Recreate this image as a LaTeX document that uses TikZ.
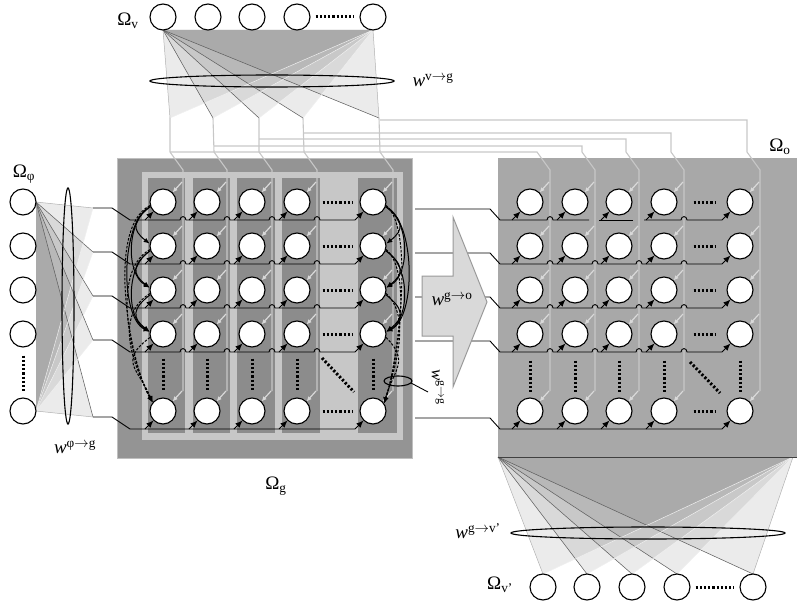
\documentclass[tikz,border=0pt]{standalone}
\usepackage{fontspec}
\setmainfont{Liberation Serif}
\usetikzlibrary{arrows.meta}
\begin{document}
\begin{tikzpicture}[x=1pt,y=-1pt,
  neuron/.style={circle,draw=black,line width=1.1pt,fill=white,minimum size=26pt,inner sep=0pt},
  fanfill/.style={fill=black,fill opacity=0.08},
  fanedge/.style={draw=black!30,line width=0.5pt},
  darkray/.style={draw=black!62,line width=0.55pt},
  lightray/.style={draw=black!6,line width=0.5pt},
  route/.style={draw=black!22,line width=1.1pt},
  garrow/.style={draw=black!15,line width=1.2pt,-{Latex[length=5pt,width=4.5pt]}},
  inarrow/.style={draw=black,line width=0.9pt,-{Latex[length=7pt,width=6pt]}},
  rowline/.style={draw=black,line width=0.9pt},
  dotrow/.style={draw=black,line width=3pt,dash pattern=on 2.2pt off 2pt},
  recur/.style={draw=black,line width=1pt,-{Latex[length=6pt,width=5pt]}},
  recurd/.style={recur,dash pattern=on 2.5pt off 1.5pt},
  lbl/.style={font=\fontsize{19}{21}\selectfont,inner sep=0pt},
  slbl/.style={font=\fontsize{17}{19}\selectfont,inner sep=0pt},
  ellip/.style={draw=black,line width=1.1pt}
]
\useasboundingbox (0,0) rectangle (797,604);

% ---------------- coordinates
\coordinate (va) at (163,30);
\coordinate (vb) at (373,30);
\foreach \t [count=\k] in {170,213,259,303,379} \coordinate (vt\k) at (\t,118);
\coordinate (pa) at (36,202);
\coordinate (pb) at (36,411);
\foreach \y [count=\r] in {202,246,290,334,411} \coordinate (pt\r) at (93,\y+6);
\coordinate (ba) at (498,457);
\coordinate (bb) at (793,457);
\foreach \x [count=\k] in {543,587,632,677,753} \coordinate (bt\k) at (\x,574);

% ---------------- backgrounds
\fill[black!42] (117,158) rectangle (412,458);
\draw[black!25,line width=0.8pt] (117,158) rectangle (412,458);
\fill[black!22] (142,172) rectangle (403,440);
\foreach \a/\b in {148/185,193/230,237/275,282/320,358/397}
  \fill[black!45] (\a,178) rectangle (\b,433);
\fill[black!34] (498,158) rectangle (797,457);

% ---------------- fans
\foreach \k in {1,...,5} \fill[fanfill] (va) -- (vb) -- (vt\k) -- cycle;
\foreach \k in {2,...,5} \draw[darkray] (va) -- (vt\k);
\foreach \k in {1,...,4} \draw[lightray] (vb) -- (vt\k);
\draw[fanedge] (va) -- (vt1);
\draw[fanedge] (vb) -- (vt5);
\draw[ellip] (272,81) ellipse [x radius=122pt, y radius=6pt];

\foreach \k in {1,...,5} \fill[fanfill] (pa) -- (pb) -- (pt\k) -- cycle;
\foreach \k in {2,...,5} \draw[darkray] (pa) -- (pt\k);
\foreach \k in {1,...,4} \draw[lightray] (pb) -- (pt\k);
\draw[fanedge] (pa) -- (pt1);
\draw[fanedge] (pb) -- (pt5);
\draw[ellip] (68,306) ellipse [x radius=6pt, y radius=118pt];

\foreach \k in {1,...,5} \fill[fanfill] (ba) -- (bb) -- (bt\k) -- cycle;
\foreach \k in {2,...,5} \draw[darkray] (ba) -- (bt\k);
\foreach \k in {1,...,4} \draw[lightray] (bb) -- (bt\k);
\draw[fanedge] (ba) -- (bt1);
\draw[fanedge] (bb) -- (bt5);
\draw[black!75,line width=1pt] (ba) -- (797,457);
\draw[ellip] (648,533) ellipse [x radius=137pt, y radius=6pt];

% ---------------- routing (light gray)
\foreach \gx/\ox/\yh [count=\k] in {163/530/152,207/575/146,252/619/139,297/664/133,373/740/120} {
  \draw[route] (vt\k) -- (\gx+7,152) -- (\gx+20,170) -- (\gx+20,391);
  \draw[route] (\gx+7,\yh) -- (\ox+7,\yh) -- (\ox+7,152) -- (\ox+20,170) -- (\ox+20,391);
}

% ---------------- input row lines into Omega_g
\foreach \y [count=\r] in {202,246,290,334} {
  \pgfmathsetmacro{\Y}{\y+18}
  \draw[rowline] (pt\r) -- (112,\y+6) -- (130,\Y)
    \foreach \h in {183,227,272,317} { -- (\h-3,\Y) .. controls (\h-3,\Y-4.5) and (\h+3,\Y-4.5) .. (\h+3,\Y) }
    -- (355,\Y);
}
\draw[rowline] (pt5) -- (112,417) -- (130,429) -- (355,429);

% ---------------- lines into Omega_o
\draw[rowline] (415,209) -- (490,209) -- (500,220) -- (547,220) .. controls (547,215.5) and (553,215.5) .. (553,220) -- (589,220);
\draw[rowline] (599,220) -- (633,220);
\draw[rowline] (644,220) -- (681,220) .. controls (681,215.5) and (687,215.5) .. (687,220) -- (722,220);
\foreach \y in {246,290,334} {
  \pgfmathsetmacro{\Y}{\y+18}
  \draw[rowline] (415,\y+7) -- (490,\y+7) -- (500,\Y)
    \foreach \h in {550,595,639,684} { -- (\h-3,\Y) .. controls (\h-3,\Y-4.5) and (\h+3,\Y-4.5) .. (\h+3,\Y) }
    -- (722,\Y);
}
\draw[rowline] (415,418) -- (490,418) -- (500,429) -- (722,429);

% ---------------- block arrow
\draw[fill=black!15,draw=black!40,line width=1pt] (422,276) -- (453,276) -- (453,217) -- (487,302) -- (453,387) -- (453,336) -- (422,336) -- cycle;
\node[lbl] (lwgo) at (452,299) {\textit{w}\textsuperscript{g$\to$o}};

% ---------------- neurons
\foreach \x [count=\k] in {163,208,252,297,373} \node[neuron] (v\k) at (\x,17) {};
\foreach \y [count=\r] in {202,246,290,334,411} \node[neuron] (p\r) at (23,\y) {};
\foreach \x [count=\k] in {543,587,632,677,753} \node[neuron] (vp\k) at (\x,587) {};
\foreach \x [count=\c] in {163,207,252,297,373} {
  \foreach \y [count=\r] in {202,246,290,334,411} {
    \node[neuron] (g\c\r) at (\x,\y) {};
    \draw[garrow] (\x+19,\y-20) -- (g\c\r.45);
    \draw[inarrow] (\x-18,\y+18) -- (g\c\r.225);
  }
}
\foreach \x [count=\c] in {530,575,619,664,740} {
  \foreach \y [count=\r] in {202,246,290,334,411} {
    \node[neuron] (o\c\r) at (\x,\y) {};
    \draw[garrow] (\x+19,\y-20) -- (o\c\r.45);
    \draw[inarrow] (\x-18,\y+18) -- (o\c\r.225);
  }
}

% ---------------- dots
\draw[dotrow,shorten <=5pt,shorten >=5pt] (v4.east) -- (v5.west);
\draw[dotrow,shorten <=5pt,shorten >=5pt] (vp4.east) -- (vp5.west);
\draw[dotrow,shorten <=8pt,shorten >=6pt] (p4.south) -- (p5.north);
\foreach \r in {1,...,5} {
  \draw[dotrow,shorten <=12pt,shorten >=6pt] (g4\r.east) -- (g5\r.west);
  \draw[dotrow,shorten <=16pt,shorten >=10pt] (o4\r.east) -- (o5\r.west);
}
\foreach \c in {1,...,5} {
  \draw[dotrow,shorten <=11pt,shorten >=6pt] (g\c4.south) -- (g\c5.north);
  \draw[dotrow,shorten <=13pt,shorten >=5pt] (o\c4.south) -- (o\c5.north);
}
\draw[dotrow] (322,358) -- (354,392);
\draw[dotrow] (690,362) -- (720,393);

% ---------------- recurrent connections
\foreach \i/\j/\d in {1/2/18,1/3/24,1/4/30,2/3/18,2/4/24,3/4/18}
  \draw[recur] (g1\i.200) .. controls +(-\d,14) and +(-\d,-14) .. (g1\j.170);
\foreach \i/\d in {1/46,2/42,3/38,4/32}
  \draw[recurd] (g1\i.195) .. controls +(-\d,24) and +(-\d*0.45,-34) .. (g15.140);
\foreach \i/\j/\d in {1/2/18,1/3/24,1/4/30,2/3/18,2/4/24,3/4/18}
  \draw[recur] (g5\i.340) .. controls +(\d,14) and +(\d,-14) .. (g5\j.10);
\foreach \i/\d in {1/30,2/28,3/26,4/24}
  \draw[recurd] (g5\i.345) .. controls +(\d,24) and +(\d*0.4,-34) .. (g55.35);
\draw[ellip] (398,381) ellipse [x radius=14pt, y radius=5pt];
\coordinate (ggend) at (428,392);
\draw[black,line width=0.9pt] (411,383) -- (ggend);
\node[slbl,rotate=-90] (lwgg) at (438,387) {\textit{w}\textsuperscript{g$\to$g}};

% ---------------- labels
\node[lbl] (lv) at (128,21) {Ω\textsubscript{v}};
\node[lbl] (lphi) at (24,174) {Ω\textsubscript{φ}};
\node[lbl] (lg) at (276,486) {Ω\textsubscript{g}};
\node[lbl] (lo) at (780,147) {Ω\textsubscript{o}};
\node[lbl] (lvp) at (500,585) {Ω\textsubscript{v'}};
\node[lbl] (lwvg) at (433,80) {\textit{w}\textsuperscript{v$\to$g}};
\node[lbl] (lwpg) at (75,447) {\textit{w}\textsuperscript{φ$\to$g}};
\node[lbl] (lwgv) at (478,531) {\textit{w}\textsuperscript{g$\to$v'}};
\end{tikzpicture}
\end{document}
